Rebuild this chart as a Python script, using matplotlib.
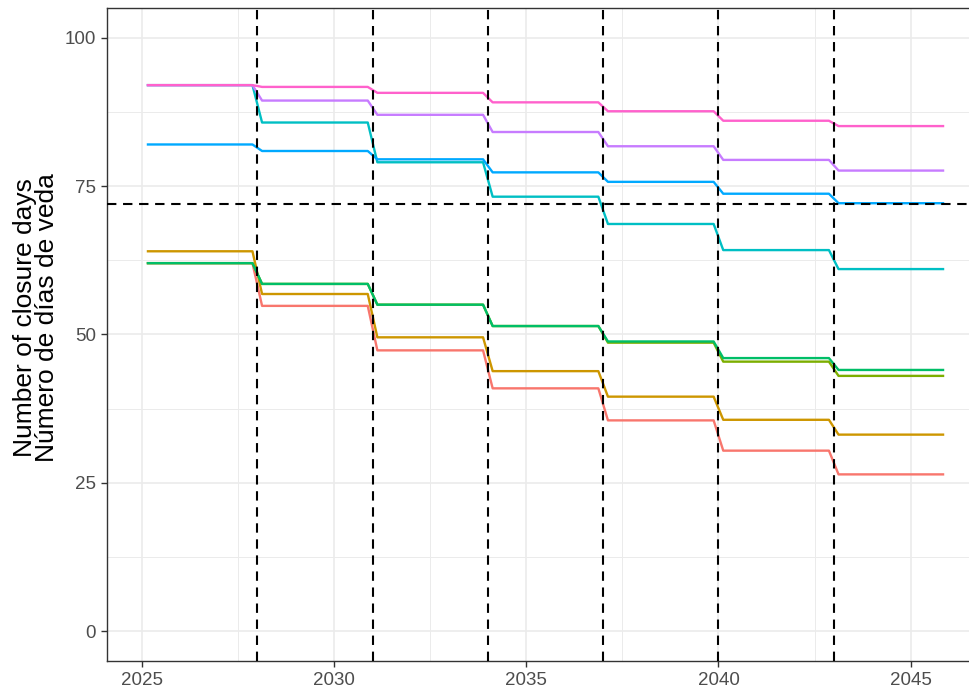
import numpy as np
import matplotlib.pyplot as plt

plt.rcParams['font.family'] = ['Liberation Sans', 'DejaVu Sans']

# closure days per management period (periods start at these years)
period_start = [2025, 2028, 2031, 2034, 2037, 2040, 2043]
first_year, last_year = 2025, 2045

series_colors = ['#F8766D', '#CD9600', '#7CAE00', '#00BE67',
                 '#00BFC4', '#00A9FF', '#C77CFF', '#FF61CC']
series_values = [
    [62, 54.8, 47.3, 40.9, 35.5, 30.4, 26.4],   # red
    [64, 56.8, 49.5, 43.8, 39.5, 35.6, 33.1],   # gold
    [62, 58.5, 55.0, 51.4, 48.6, 45.4, 43.0],   # olive
    [62, 58.5, 55.0, 51.4, 48.8, 46.0, 44.0],   # green
    [92, 85.7, 79.0, 73.2, 68.6, 64.2, 61.0],   # cyan
    [82, 80.9, 79.5, 77.3, 75.7, 73.7, 72.1],   # blue
    [92, 89.4, 87.0, 84.1, 81.7, 79.4, 77.6],   # purple
    [92, 91.7, 90.7, 89.1, 87.6, 86.0, 85.1],   # pink
]
ref_line = 72
x_ticks = [2025, 2030, 2035, 2040, 2045]
y_ticks = [0, 25, 50, 75, 100]

# monthly points Feb..Nov, value constant within a year
months = np.arange(2, 12)
years = np.arange(first_year, last_year + 1)
xs = (years[:, None] + (months[None, :] - 0.5) / 12).ravel()

fig = plt.figure(figsize=(9.69, 6.91), dpi=100)
ax = fig.add_axes([107 / 969, 30.3 / 691, 877 / 969, 652.7 / 691])

for col, vals in zip(series_colors, series_values):
    idx = np.searchsorted(period_start, years, side='right') - 1
    yearly = np.array(vals)[idx]
    ys = np.repeat(yearly, len(months))
    ax.plot(xs, ys, color=col, lw=1.7, zorder=3, solid_capstyle='butt')

for yr in period_start[1:]:
    ax.axvline(yr, color='black', lw=1.5, dashes=(4.5, 3.2), zorder=4)
ax.axhline(ref_line, color='black', lw=1.5, dashes=(4.5, 3.2), zorder=4)

ax.set_xlim(2024.09, 2046.91)
ax.set_ylim(-5, 105)
ax.set_xticks(x_ticks)
ax.set_yticks(y_ticks)
ax.set_xticks(np.arange(2027.5, 2046, 5), minor=True)
ax.set_yticks(np.arange(12.5, 100, 25), minor=True)
ax.grid(which='major', color='#EBEBEB', lw=1.2, zorder=0)
ax.grid(which='minor', color='#EBEBEB', lw=0.7, zorder=0)
ax.set_axisbelow(True)

for s in ax.spines.values():
    s.set_color('#333333')
    s.set_linewidth(1.0)
ax.tick_params(which='major', length=4, width=1.0, color='#333333',
               labelcolor='#4D4D4D', labelsize=13.5, pad=4)
ax.tick_params(which='minor', length=0)

# axis title
fig.text(36 / 969, (691 - 318) / 691,
         'Number of closure days\nNúmero de días de veda',
         rotation=90, ha='center', va='center', multialignment='center',
         fontsize=19, color='black', linespacing=0.9)

fig.savefig('out.png', dpi=100)
